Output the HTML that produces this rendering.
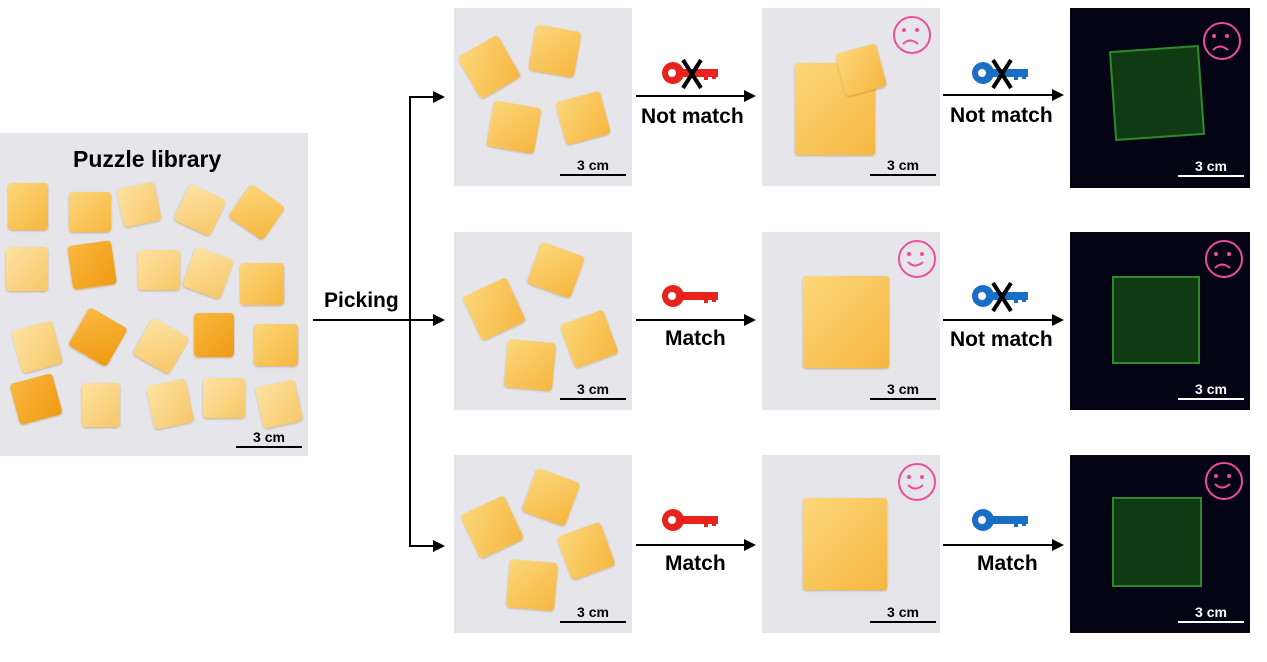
<!DOCTYPE html>
<html><head><meta charset="utf-8"><style>
body{margin:0;width:1267px;height:662px;background:#fff;position:relative;overflow:hidden;font-family:"Liberation Sans",Arial,sans-serif}
.p{position:absolute;background:#e6e6ea}
.d{position:absolute;background:#050414}
.pc{position:absolute;border-radius:4px;background:linear-gradient(135deg,#fcd77a,#f6b640);box-shadow:0 1px 2px rgba(150,90,0,.4)}
.dk{background:linear-gradient(135deg,#f9b840,#f09a12)}
.lt{background:linear-gradient(135deg,#fde3a2,#f7c769)}
.g{position:absolute;border:2px solid #2d8a2a;background:#0f3a12}
.sb{position:absolute;font-weight:bold;font-size:14px;text-align:center;width:66px}
.sb div{height:2px;background:#000;margin-top:1px}
.w{color:#fff}.w div{background:#fff}
.t{position:absolute;font-weight:bold;font-size:21px;white-space:nowrap}
.ln{position:absolute;background:#000}
.ah{position:absolute;width:0;height:0;border-top:6px solid transparent;border-bottom:6px solid transparent;border-left:12px solid #000}
.sm{position:absolute;width:34px;height:34px;border:2px solid #ec4e9a;border-radius:50%}
</style></head><body>

<div class="p" style="left:0;top:133px;width:308px;height:323px"></div>
<div class="t" style="left:73px;top:146px;font-size:23px">Puzzle library</div>
<div class="pc" style="left:8px;top:183px;width:40px;height:47px"></div>
<div class="pc" style="left:69px;top:192px;width:42px;height:40px"></div>
<div class="pc lt" style="left:120px;top:185px;width:38px;height:39px;transform:rotate(-12deg)"></div>
<div class="pc lt" style="left:180px;top:190px;width:40px;height:40px;transform:rotate(25deg)"></div>
<div class="pc" style="left:236px;top:192px;width:42px;height:40px;transform:rotate(35deg)"></div>
<div class="pc lt" style="left:6px;top:247px;width:42px;height:44px"></div>
<div class="pc dk" style="left:70px;top:243px;width:44px;height:44px;transform:rotate(-8deg)"></div>
<div class="pc lt" style="left:138px;top:250px;width:42px;height:40px"></div>
<div class="pc lt" style="left:188px;top:252px;width:40px;height:42px;transform:rotate(20deg)"></div>
<div class="pc" style="left:240px;top:263px;width:44px;height:42px"></div>
<div class="pc lt" style="left:16px;top:325px;width:42px;height:44px;transform:rotate(-15deg)"></div>
<div class="pc dk" style="left:76px;top:315px;width:44px;height:44px;transform:rotate(30deg)"></div>
<div class="pc lt" style="left:140px;top:325px;width:42px;height:42px;transform:rotate(30deg)"></div>
<div class="pc dk" style="left:194px;top:313px;width:40px;height:44px"></div>
<div class="pc" style="left:254px;top:324px;width:44px;height:42px"></div>
<div class="pc dk" style="left:14px;top:378px;width:44px;height:42px;transform:rotate(-15deg)"></div>
<div class="pc lt" style="left:82px;top:383px;width:38px;height:44px"></div>
<div class="pc lt" style="left:150px;top:382px;width:40px;height:44px;transform:rotate(-12deg)"></div>
<div class="pc lt" style="left:203px;top:378px;width:42px;height:40px"></div>
<div class="pc lt" style="left:259px;top:383px;width:40px;height:42px;transform:rotate(-12deg)"></div>
<div class="sb" style="left:236px;top:429px">3 cm<div></div></div>

<div class="t" style="left:324px;top:289px">Picking</div>
<div class="ln" style="left:313px;top:319px;width:120px;height:2px"></div>
<div class="ln" style="left:409px;top:96px;width:2px;height:451px"></div>
<div class="ln" style="left:409px;top:96px;width:26px;height:2px"></div>
<div class="ln" style="left:409px;top:545px;width:26px;height:2px"></div>
<div class="ah" style="left:433px;top:91px"></div>
<div class="ah" style="left:433px;top:314px"></div>
<div class="ah" style="left:433px;top:540px"></div>

<div class="p" style="left:454px;top:8px;width:178px;height:178px"></div>
<div class="pc" style="left:466px;top:43px;width:46px;height:48px;transform:rotate(-30deg)"></div>
<div class="pc" style="left:532px;top:28px;width:46px;height:46px;transform:rotate(10deg)"></div>
<div class="pc" style="left:490px;top:104px;width:48px;height:46px;transform:rotate(10deg)"></div>
<div class="pc" style="left:560px;top:96px;width:46px;height:44px;transform:rotate(-15deg)"></div>
<div class="sb" style="left:560px;top:157px">3 cm<div></div></div>

<div class="p" style="left:454px;top:232px;width:178px;height:178px"></div>
<div class="pc" style="left:470px;top:285px;width:48px;height:48px;transform:rotate(-25deg)"></div>
<div class="pc" style="left:533px;top:248px;width:46px;height:44px;transform:rotate(20deg)"></div>
<div class="pc" style="left:506px;top:341px;width:48px;height:48px;transform:rotate(5deg)"></div>
<div class="pc" style="left:566px;top:316px;width:46px;height:46px;transform:rotate(-20deg)"></div>
<div class="sb" style="left:560px;top:381px">3 cm<div></div></div>

<div class="p" style="left:454px;top:455px;width:178px;height:178px"></div>
<div class="pc" style="left:468px;top:503px;width:48px;height:48px;transform:rotate(-25deg)"></div>
<div class="pc" style="left:528px;top:474px;width:46px;height:46px;transform:rotate(20deg)"></div>
<div class="pc" style="left:508px;top:561px;width:48px;height:48px;transform:rotate(5deg)"></div>
<div class="pc" style="left:563px;top:528px;width:46px;height:46px;transform:rotate(-20deg)"></div>
<div class="sb" style="left:560px;top:604px">3 cm<div></div></div>

<div class="p" style="left:762px;top:8px;width:178px;height:178px"></div>
<div class="pc" style="left:795px;top:63px;width:80px;height:92px;border-radius:3px"></div>
<div class="pc" style="left:840px;top:48px;width:42px;height:44px;transform:rotate(-15deg)"></div>
<div class="sm" style="left:893px;top:16px"></div>
<div class="sb" style="left:870px;top:157px">3 cm<div></div></div>

<div class="p" style="left:762px;top:232px;width:178px;height:178px"></div>
<div class="pc" style="left:803px;top:276px;width:86px;height:92px;border-radius:3px"></div>
<div class="sm" style="left:898px;top:240px"></div>
<div class="sb" style="left:870px;top:381px">3 cm<div></div></div>

<div class="p" style="left:762px;top:455px;width:178px;height:178px"></div>
<div class="pc" style="left:803px;top:498px;width:84px;height:92px;border-radius:3px"></div>
<div class="sm" style="left:898px;top:463px"></div>
<div class="sb" style="left:870px;top:604px">3 cm<div></div></div>

<div class="d" style="left:1070px;top:8px;width:180px;height:180px"></div>
<div class="g" style="left:1112px;top:48px;width:86px;height:86px;transform:rotate(-4deg)"></div>
<div class="sm" style="left:1203px;top:22px"></div>
<div class="sb w" style="left:1178px;top:158px">3 cm<div></div></div>

<div class="d" style="left:1070px;top:232px;width:180px;height:178px"></div>
<div class="g" style="left:1112px;top:276px;width:84px;height:84px"></div>
<div class="sm" style="left:1205px;top:240px"></div>
<div class="sb w" style="left:1178px;top:381px">3 cm<div></div></div>

<div class="d" style="left:1070px;top:455px;width:180px;height:178px"></div>
<div class="g" style="left:1112px;top:497px;width:86px;height:86px"></div>
<div class="sm" style="left:1205px;top:462px"></div>
<div class="sb w" style="left:1178px;top:604px">3 cm<div></div></div>

<svg style="position:absolute;left:0;top:0" width="1267" height="662">
<g fill="#ec4e9a" stroke="#ec4e9a" stroke-width="2">
<circle cx="904" cy="30" r="2" stroke="none"/><circle cx="917" cy="30" r="2" stroke="none"/><path d="M903 44 Q910 37 918 44" fill="none"/>
<circle cx="1214" cy="36" r="2" stroke="none"/><circle cx="1227" cy="36" r="2" stroke="none"/><path d="M1213 50 Q1220 43 1228 50" fill="none"/>
<circle cx="1216" cy="254" r="2" stroke="none"/><circle cx="1229" cy="254" r="2" stroke="none"/><path d="M1215 268 Q1222 261 1230 268" fill="none"/>
<circle cx="909" cy="254" r="2" stroke="none"/><circle cx="922" cy="254" r="2" stroke="none"/><path d="M908 262 Q915 269 923 262" fill="none"/>
<circle cx="909" cy="477" r="2" stroke="none"/><circle cx="922" cy="477" r="2" stroke="none"/><path d="M908 485 Q915 492 923 485" fill="none"/>
<circle cx="1216" cy="476" r="2" stroke="none"/><circle cx="1229" cy="476" r="2" stroke="none"/><path d="M1215 484 Q1222 491 1230 484" fill="none"/>
</g>
<defs>
<g id="key"><circle cx="11" cy="10" r="11"/><rect x="14" y="6" width="42" height="8"/><rect x="42" y="12" width="4" height="5"/><rect x="50" y="12" width="4" height="4"/></g>
</defs>
<g fill="#e8231e">
<use href="#key" x="662" y="63"/><use href="#key" x="662" y="286"/><use href="#key" x="662" y="510"/>
</g>
<g fill="#1a6ec4">
<use href="#key" x="972" y="63"/><use href="#key" x="972" y="286"/><use href="#key" x="972" y="510"/>
</g>
<circle cx="672" cy="73" r="4" fill="#fff"/><circle cx="672" cy="296" r="4" fill="#fff"/><circle cx="672" cy="520" r="4" fill="#fff"/>
<circle cx="982" cy="73" r="4" fill="#fff"/><circle cx="982" cy="296" r="4" fill="#fff"/><circle cx="982" cy="520" r="4" fill="#fff"/>
<g stroke="#000" stroke-width="4">
<path d="M683 60 L701 88 M701 60 L683 88"/>
<path d="M993 60 L1011 88 M1011 60 L993 88"/>
<path d="M993 283 L1011 311 M1011 283 L993 311"/>
</g>
<g stroke="#000" stroke-width="2">
<line x1="636" y1="96" x2="746" y2="96"/><line x1="943" y1="95" x2="1054" y2="95"/>
<line x1="636" y1="320" x2="746" y2="320"/><line x1="943" y1="320" x2="1054" y2="320"/>
<line x1="636" y1="545" x2="746" y2="545"/><line x1="943" y1="545" x2="1054" y2="545"/>
</g>
<g fill="#000">
<path d="M744 90 L756 96 L744 102Z"/><path d="M1052 89 L1064 95 L1052 101Z"/>
<path d="M744 314 L756 320 L744 326Z"/><path d="M1052 314 L1064 320 L1052 326Z"/>
<path d="M744 539 L756 545 L744 551Z"/><path d="M1052 539 L1064 545 L1052 551Z"/>
</g>
</svg>
<div class="t" style="left:641px;top:105px">Not match</div>
<div class="t" style="left:950px;top:104px">Not match</div>
<div class="t" style="left:665px;top:327px">Match</div>
<div class="t" style="left:950px;top:328px">Not match</div>
<div class="t" style="left:665px;top:552px">Match</div>
<div class="t" style="left:977px;top:552px">Match</div>
</body></html>
